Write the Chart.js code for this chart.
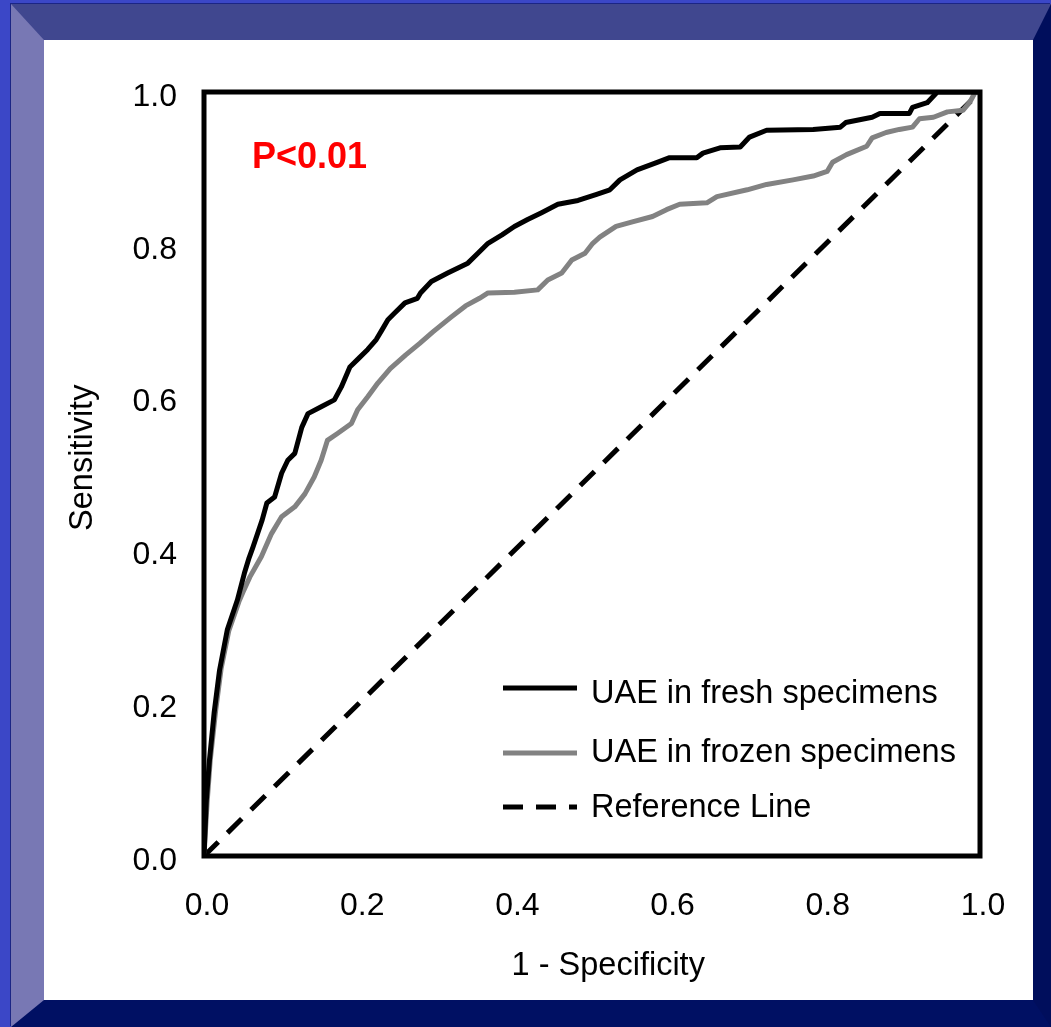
<!DOCTYPE html>
<html>
<head>
<meta charset="utf-8">
<title>ROC curve - UAE</title>
<script src="https://cdn.jsdelivr.net/npm/chart.js@4.4.0/dist/chart.umd.min.js"></script>
<style>
    html, body {
        margin: 0;
        padding: 0;
        width: 1051px;
        height: 1027px;
        overflow: hidden;
        background: #3b47c7;
    }
    #frame {
        position: absolute;
        left: 11px;
        top: 4px;
        width: 989px;
        height: 960px;
        border-left: 33px solid #7878b4;
        border-top: 36px solid #40478f;
        border-right: 18px solid #000e5c;
        border-bottom: 27px solid #001063;
        box-shadow: -1px -1px 0 #1b2585;
        background: #ffffff;
    }
    #rocChart {
        display: block;
    }
</style>
</head>
<body>
<div id="frame">
    <canvas id="rocChart" width="989" height="960"></canvas>
</div>
<script>
// ROC data (1 - specificity, sensitivity)
const freshX = [0, 0.003, 0.007, 0.013, 0.02, 0.03, 0.043, 0.052, 0.058, 0.063, 0.075, 0.081, 0.091, 0.1, 0.108, 0.117, 0.126, 0.134, 0.151, 0.168, 0.177, 0.188, 0.2, 0.211, 0.222, 0.229, 0.237, 0.246, 0.259, 0.275, 0.279, 0.293, 0.314, 0.34, 0.353, 0.366, 0.384, 0.4, 0.417, 0.435, 0.456, 0.482, 0.506, 0.523, 0.536, 0.558, 0.584, 0.6, 0.635, 0.643, 0.665, 0.691, 0.703, 0.725, 0.785, 0.82, 0.827, 0.861, 0.871, 0.909, 0.913, 0.932, 0.945, 1];
const freshY = [0, 0.073, 0.125, 0.187, 0.243, 0.296, 0.335, 0.37, 0.39, 0.404, 0.44, 0.462, 0.47, 0.501, 0.518, 0.527, 0.561, 0.579, 0.588, 0.597, 0.614, 0.64, 0.652, 0.663, 0.676, 0.688, 0.702, 0.711, 0.724, 0.73, 0.737, 0.752, 0.763, 0.776, 0.789, 0.802, 0.813, 0.824, 0.833, 0.842, 0.853, 0.858, 0.866, 0.872, 0.885, 0.898, 0.908, 0.914, 0.914, 0.92, 0.927, 0.928, 0.941, 0.95, 0.951, 0.954, 0.96, 0.967, 0.972, 0.972, 0.98, 0.986, 1, 1];

const frozenX = [0, 0.004, 0.008, 0.015, 0.022, 0.032, 0.045, 0.05, 0.059, 0.074, 0.087, 0.1, 0.117, 0.13, 0.142, 0.151, 0.159, 0.172, 0.19, 0.198, 0.211, 0.224, 0.24, 0.26, 0.278, 0.295, 0.318, 0.337, 0.355, 0.366, 0.4, 0.43, 0.443, 0.461, 0.474, 0.491, 0.501, 0.51, 0.531, 0.552, 0.578, 0.596, 0.613, 0.648, 0.661, 0.7, 0.725, 0.759, 0.785, 0.803, 0.81, 0.828, 0.854, 0.861, 0.879, 0.896, 0.913, 0.922, 0.94, 0.958, 0.978, 0.987, 0.994, 1];
const frozenY = [0, 0.07, 0.125, 0.19, 0.245, 0.295, 0.333, 0.345, 0.365, 0.392, 0.422, 0.444, 0.457, 0.474, 0.496, 0.518, 0.544, 0.553, 0.566, 0.584, 0.601, 0.619, 0.638, 0.656, 0.671, 0.686, 0.705, 0.72, 0.73, 0.737, 0.738, 0.741, 0.754, 0.763, 0.78, 0.789, 0.802, 0.81, 0.824, 0.83, 0.837, 0.846, 0.853, 0.855, 0.863, 0.872, 0.879, 0.885, 0.89, 0.896, 0.908, 0.918, 0.929, 0.94, 0.947, 0.951, 0.954, 0.965, 0.967, 0.974, 0.976, 0.987, 1, 1];

const referenceX = [0, 1];
const referenceY = [0, 1];

const tickValues = [0, 0.2, 0.4, 0.6, 0.8, 1.0];
const seriesLabels = ['UAE in fresh specimens', 'UAE in frozen specimens', 'Reference Line'];
const pValueText = 'P<0.01';

const fontFamily = '"Liberation Sans", Arial, Helvetica, sans-serif';

function toPoints(xs, ys) {
    return xs.map((x, i) => ({ x: x, y: ys[i] }));
}

// Black frame round the plot area
const framePlugin = {
    id: 'plotFrame',
    afterDatasetsDraw(chart) {
        const { ctx, chartArea } = chart;
        ctx.save();
        ctx.strokeStyle = '#000000';
        ctx.lineWidth = 5;
        ctx.strokeRect(chartArea.left, chartArea.top, chartArea.right - chartArea.left, chartArea.bottom - chartArea.top);
        ctx.restore();
    }
};

// Legend and p value written inside the plot area
const annotationPlugin = {
    id: 'insideLegend',
    afterDraw(chart) {
        const { ctx, chartArea } = chart;
        const left = chartArea.left;
        const top = chartArea.top;
        ctx.save();

        ctx.fillStyle = '#ff0000';
        ctx.font = 'bold 36px ' + fontFamily;
        ctx.textBaseline = 'alphabetic';
        ctx.fillText(pValueText, left + 48, top + 76);

        const rows = [
            { lineY: 596, textY: 611 },
            { lineY: 661, textY: 670 },
            { lineY: 715, textY: 725 }
        ];
        chart.data.datasets.forEach((ds, i) => {
            const row = rows[i];
            ctx.strokeStyle = ds.borderColor;
            ctx.lineWidth = 5;
            ctx.setLineDash(ds.borderDash || []);
            ctx.beginPath();
            ctx.moveTo(left + 299, top + row.lineY);
            ctx.lineTo(left + 373, top + row.lineY);
            ctx.stroke();
            ctx.setLineDash([]);
            ctx.fillStyle = '#000000';
            ctx.font = '32.5px ' + fontFamily;
            ctx.fillText(ds.label, left + 387, top + row.textY);
        });
        ctx.restore();
    }
};

const rocCtx = document.getElementById('rocChart').getContext('2d');

const rocChart = new Chart(rocCtx, {
    type: 'line',
    data: {
        datasets: [{
            label: seriesLabels[0],
            data: toPoints(freshX, freshY),
            borderColor: '#000000',
            borderWidth: 5,
            pointRadius: 0,
            tension: 0,
            borderJoinStyle: 'round'
        }, {
            label: seriesLabels[1],
            data: toPoints(frozenX, frozenY),
            borderColor: '#828282',
            borderWidth: 5,
            pointRadius: 0,
            tension: 0,
            borderJoinStyle: 'round'
        }, {
            label: seriesLabels[2],
            data: toPoints(referenceX, referenceY),
            borderColor: '#000000',
            borderWidth: 5,
            borderDash: [20, 13],
            pointRadius: 0,
            tension: 0
        }]
    },
    options: {
        responsive: false,
        animation: false,
        layout: {
            padding: { top: 52, right: 53, left: 0, bottom: 0 }
        },
        scales: {
            x: {
                type: 'linear',
                min: 0,
                max: 1,
                afterFit(scale) { scale.height = 144; },
                afterBuildTicks(scale) { scale.ticks = tickValues.map(v => ({ value: v })); },
                grid: { display: false },
                border: { display: false },
                ticks: {
                    color: '#000000',
                    padding: 23,
                    labelOffset: 3,
                    font: { family: fontFamily, size: 32 },
                    callback: v => v.toFixed(1)
                },
                title: {
                    display: true,
                    // en spaces nudge the title to the right like the original
                    text: '\u2002\u20021 - Specificity',
                    color: '#000000',
                    font: { family: fontFamily, size: 32.5 },
                    padding: { top: 0, bottom: 14 }
                }
            },
            y: {
                type: 'linear',
                min: 0,
                max: 1,
                afterFit(scale) { scale.width = 160; },
                afterBuildTicks(scale) { scale.ticks = tickValues.map(v => ({ value: v })); },
                grid: { display: false },
                border: { display: false },
                ticks: {
                    color: '#000000',
                    padding: 19,
                    labelOffset: 5,
                    font: { family: fontFamily, size: 32 },
                    callback: v => v.toFixed(1)
                },
                title: {
                    display: true,
                    // en spaces nudge the title upward like the original
                    text: '\u2002\u2002Sensitivity',
                    color: '#000000',
                    font: { family: fontFamily, size: 32.5 },
                    padding: { top: 20, bottom: 0 }
                }
            }
        },
        plugins: {
            legend: { display: false },
            tooltip: { enabled: false }
        }
    },
    plugins: [framePlugin, annotationPlugin]
});
</script>
</body>
</html>
